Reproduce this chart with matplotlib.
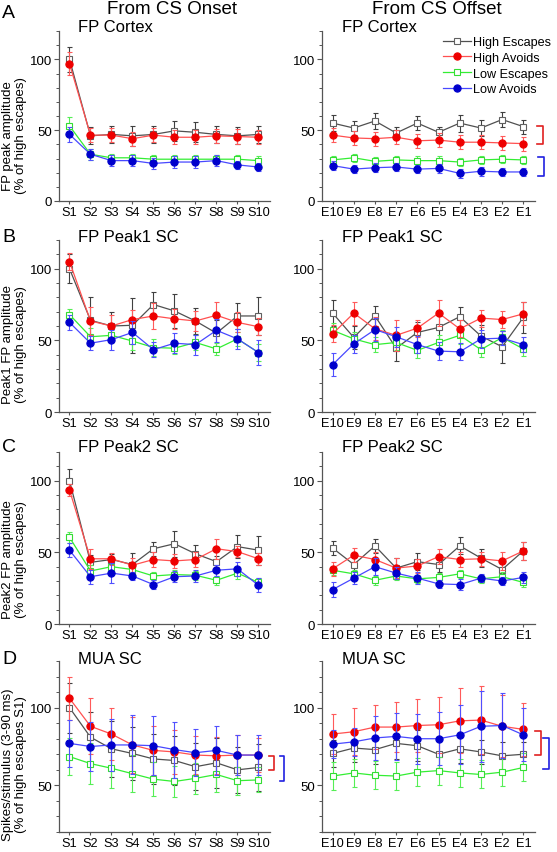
import matplotlib
matplotlib.use('Agg')
import matplotlib.pyplot as plt
from matplotlib.ticker import MultipleLocator
import numpy as np

plt.rcParams['font.family'] = ['Liberation Sans', 'DejaVu Sans']

onset_labels = ['S1', 'S2', 'S3', 'S4', 'S5', 'S6', 'S7', 'S8', 'S9', 'S10']
offset_labels = ['E10', 'E9', 'E8', 'E7', 'E6', 'E5', 'E4', 'E3', 'E2', 'E1']
series_names = ['High Escapes', 'High Avoids', 'Low Escapes', 'Low Avoids']

# A - FP Cortex
a_on_hesc = [100, 46, 47, 46, 47, 49.5, 48.5, 47, 46, 47]
a_on_hesc_err = [9, 6, 6, 7, 6, 7, 7, 6, 6, 6]
a_on_hav = [97, 46.5, 46.5, 44, 46.5, 45, 45, 46, 45.5, 45]
a_on_hav_err = [8, 5, 5, 5, 5, 5, 5, 5, 5, 5]
a_on_lesc = [53, 33, 30.5, 30.5, 29.5, 29.5, 29.5, 29.5, 29.5, 28.5]
a_on_lesc_err = [6, 4, 3, 3, 3, 3, 3, 3, 3, 3]
a_on_lav = [47, 33, 28.5, 28.5, 26.5, 27.5, 27.5, 28.5, 25.5, 24]
a_on_lav_err = [5, 4, 4, 4, 4, 4, 4, 4, 3, 3]

a_off_hesc = [55, 51.5, 56.5, 48, 55, 48.5, 55, 51.5, 57.5, 52.5]
a_off_hesc_err = [5.5, 5, 5.5, 4, 5, 4, 6, 5.5, 5, 5]
a_off_hav = [46.5, 44.5, 44, 45, 42.5, 43, 41.5, 41.5, 41, 40.5]
a_off_hav_err = [5, 5, 5, 5, 5, 5, 5, 5, 5, 5]
a_off_lesc = [29, 30.5, 28, 29, 28.5, 28.5, 27.5, 29, 29.5, 29]
a_off_lesc_err = [3, 3, 3, 3, 3, 3, 3, 3, 3, 3]
a_off_lav = [25, 22.5, 23.5, 24, 22.5, 23, 19.5, 21, 20.5, 20.5]
a_off_lav_err = [3, 3, 3, 3, 3, 3, 3, 3, 3, 3]

# B - FP Peak1 SC
b_on_hesc = [100, 64, 60, 60.5, 75, 70.5, 63.5, 55, 67, 67]
b_on_hesc_err = [10, 16, 10, 19, 9, 12, 9, 9, 9, 13]
b_on_hav = [105, 63.5, 60, 64.5, 67, 65, 63.5, 67.5, 62.5, 59.5]
b_on_hav_err = [6, 10, 8, 7, 9, 7, 7, 9, 7, 6]
b_on_lesc = [68, 52.5, 53.5, 49.5, 45, 44.5, 48.5, 44, 51, 41.5]
b_on_lesc_err = [4, 6, 5, 6, 6, 4, 5, 4, 5, 6]
b_on_lav = [62.5, 48, 50.5, 55.5, 43.5, 48, 47, 57, 51, 41.5]
b_on_lav_err = [5, 5, 7, 8, 5, 7, 7, 8, 7, 9]

b_off_hesc = [69, 52, 67, 44.5, 55.5, 59, 66.5, 53, 45.5, 66]
b_off_hesc_err = [9, 8, 7, 9, 7, 8, 7, 8, 11, 11]
b_off_hav = [54.5, 69, 58, 53.5, 58.5, 69, 58, 65.5, 64.5, 68.5]
b_off_hav_err = [6, 8, 8, 11, 6, 9, 6, 6, 6, 8]
b_off_lesc = [57, 51, 47, 48.5, 43, 48.5, 53.5, 43.5, 52, 44]
b_off_lesc_err = [5, 5, 5, 5, 5, 5, 6, 5, 5, 5]
b_off_lav = [33, 47.5, 57.5, 52.5, 47, 42.5, 42, 51, 51.5, 47]
b_off_lav_err = [8, 6, 8, 7, 6, 6, 6, 6, 5, 5]

# C - FP Peak2 SC
c_on_hesc = [100, 43, 45, 41.5, 52.5, 56, 49, 43.5, 54, 51.5]
c_on_hesc_err = [8, 5, 4, 8, 5, 9, 6, 4, 8, 10]
c_on_hav = [93.5, 45.5, 45.5, 41, 45, 44, 45, 52.5, 50.5, 45.5]
c_on_hav_err = [4, 7, 4, 5, 5, 5, 5, 7, 4, 4]
c_on_lesc = [60.5, 37, 40, 38, 33.5, 34.5, 34, 30.5, 35.5, 29]
c_on_lesc_err = [4, 4, 4, 4, 3, 3, 3, 3, 4, 3]
c_on_lav = [51.5, 33, 35.5, 33.5, 27.5, 33, 33.5, 37.5, 38.5, 27]
c_on_lav_err = [5, 5, 7, 3, 3, 4, 4, 4, 5, 5]

c_off_hesc = [53, 41.5, 54.5, 39, 43.5, 41.5, 54.5, 46, 38, 51]
c_off_hesc_err = [5, 5, 5, 7, 6, 5, 6, 6, 6, 6]
c_off_hav = [38.5, 48, 45, 39, 40.5, 47, 45, 45.5, 44, 51]
c_off_hav_err = [5, 5, 5, 7, 5, 5, 5, 5, 6, 6]
c_off_lesc = [37.5, 35, 30.5, 33.5, 31.5, 32.5, 35, 31.5, 33, 29]
c_off_lesc_err = [3, 3, 3, 3, 3, 3, 3, 3, 3, 3]
c_off_lav = [24, 32, 40, 35.5, 32, 28, 27.5, 32, 30, 32.5]
c_off_lav_err = [5, 4, 6, 4, 4, 3, 4, 3, 3, 4]

# D - MUA SC
d_on_hesc = [100, 81, 73.5, 70.5, 67, 66, 62, 64.5, 60, 61.5]
d_on_hesc_err = [16, 16, 18, 17, 16, 16, 15, 16, 15, 15]
d_on_hav = [106, 88, 83, 76, 72.5, 71.5, 69.5, 69, 69.5, 69.5]
d_on_hav_err = [14, 18, 17, 18, 16, 14, 12, 12, 13, 11]
d_on_lesc = [68.5, 64, 61, 57.5, 54, 52.5, 54.5, 57, 53, 53.5]
d_on_lesc_err = [12, 13, 13, 12, 11, 10, 10, 11, 9, 8]
d_on_lav = [77, 75, 76, 76, 75.5, 73, 71, 72.5, 69.5, 69.5]
d_on_lav_err = [15, 16, 17, 19, 19, 18, 15, 16, 13, 13]

d_off_hesc = [70.5, 74, 73, 77, 75.5, 70, 73.5, 71.5, 69, 70]
d_off_hesc_err = [9, 9, 9, 10, 10, 9, 9, 8, 9, 8]
d_off_hav = [83, 84.5, 87.5, 87.5, 88.5, 89, 91.5, 92, 88, 86]
d_off_hav_err = [13, 15, 14, 16, 17, 18, 21, 22, 20, 17]
d_off_lesc = [56, 58, 56.5, 56, 58.5, 59.5, 58, 57, 58.5, 61.5]
d_off_lesc_err = [9, 9, 9, 9, 9, 9, 9, 9, 9, 9]
d_off_lav = [76.5, 78, 80.5, 81.5, 80, 80, 82.5, 88, 88.5, 82.5]
d_off_lav_err = [9, 9, 14, 15, 16, 17, 19, 23, 21, 17]

# style per series: line color, error color, marker, marker face, marker edge, size
styles = {
    'High Escapes': dict(lc='#505050', ec='#404040', m='s', mfc='white', mec='#606060', ms=4.2, z=2),
    'High Avoids': dict(lc='#ff5050', ec='#ff5a5a', m='o', mfc='#ee0000', mec='#ee0000', ms=5.2, z=4),
    'Low Escapes': dict(lc='#33ee33', ec='#55ee55', m='s', mfc='white', mec='#33dd33', ms=4.2, z=3),
    'Low Avoids': dict(lc='#4848ff', ec='#5050ff', m='o', mfc='#0000cc', mec='#0000cc', ms=5.2, z=5),
}

W, H = 557, 853
fig = plt.figure(figsize=(W / 100, H / 100), dpi=100)


def px_ax(x0, x1, ytop, ybot):
    return fig.add_axes([x0 / W, 1 - ybot / H, (x1 - x0) / W, (ybot - ytop) / H])


def draw_panel(ax, data, labels, ylim, yticks):
    x = np.arange(1, 11)
    lines = {}
    for name in ['High Escapes', 'Low Escapes', 'High Avoids', 'Low Avoids']:
        mean, err = data[name]
        st = styles[name]
        ax.errorbar(x, mean, yerr=err, fmt='none', ecolor=st['ec'], elinewidth=0.8,
                    capsize=1.8, capthick=0.8, zorder=st['z'])
        ln, = ax.plot(x, mean, color=st['lc'], lw=0.9, marker=st['m'], ms=st['ms'],
                      mfc=st['mfc'], mec=st['mec'], mew=0.8, zorder=st['z'] + 0.5, label=name)
        lines[name] = ln
    ax.set_xlim(0.5, 10.55)
    ax.set_ylim(*ylim)
    ax.set_xticks(x)
    ax.set_xticklabels(labels)
    ax.set_yticks(yticks)
    ax.yaxis.set_minor_locator(MultipleLocator(10))
    for s in ['top', 'right']:
        ax.spines[s].set_visible(False)
    for s in ['left', 'bottom']:
        ax.spines[s].set_color('#555555')
        ax.spines[s].set_linewidth(0.9)
    ax.tick_params(axis='y', which='major', direction='out', length=3.5, width=0.8,
                   color='#555555', labelsize=9.5, pad=1.5)
    ax.tick_params(axis='y', which='minor', direction='out', length=2, width=0.7, color='#555555')
    ax.tick_params(axis='x', which='major', direction='out', length=2.5, width=0.8,
                   color='#555555', labelsize=9.2, pad=1.2)
    return lines


rows = [
    ('A', 'FP Cortex', 32, 202, (0, 120), [0, 50, 100], 13, 27,
     'FP peak amplitude', '(% of high escapes)', 136,
     [a_on_hesc, a_on_hav, a_on_lesc, a_on_lav], [a_on_hesc_err, a_on_hav_err, a_on_lesc_err, a_on_lav_err],
     [a_off_hesc, a_off_hav, a_off_lesc, a_off_lav], [a_off_hesc_err, a_off_hav_err, a_off_lesc_err, a_off_lav_err]),
    ('B', 'FP Peak1 SC', 241, 413, (0, 120), [0, 50, 100], 238, 238,
     'Peak1 FP amplitude', '(% of high escapes)', 345,
     [b_on_hesc, b_on_hav, b_on_lesc, b_on_lav], [b_on_hesc_err, b_on_hav_err, b_on_lesc_err, b_on_lav_err],
     [b_off_hesc, b_off_hav, b_off_lesc, b_off_lav], [b_off_hesc_err, b_off_hav_err, b_off_lesc_err, b_off_lav_err]),
    ('C', 'FP Peak2 SC', 453, 625, (0, 120), [0, 50, 100], 448, 448,
     'Peak2 FP amplitude', '(% of high escapes)', 560,
     [c_on_hesc, c_on_hav, c_on_lesc, c_on_lav], [c_on_hesc_err, c_on_hav_err, c_on_lesc_err, c_on_lav_err],
     [c_off_hesc, c_off_hav, c_off_lesc, c_off_lav], [c_off_hesc_err, c_off_hav_err, c_off_lesc_err, c_off_lav_err]),
    ('D', 'MUA SC', 662, 833, (20, 130), [50, 100], 660, 660,
     'Spikes/stimulus (3-90 ms)', '(% of high escapes S1)', 765,
     [d_on_hesc, d_on_hav, d_on_lesc, d_on_lav], [d_on_hesc_err, d_on_hav_err, d_on_lesc_err, d_on_lav_err],
     [d_off_hesc, d_off_hav, d_off_lesc, d_off_lav], [d_off_hesc_err, d_off_hav_err, d_off_lesc_err, d_off_lav_err]),
]

legend_lines = None
for (letter, title, ytop, ybot, ylim, yticks, ly, ty, yl1, yl2, ylc,
     on_m, on_e, off_m, off_e) in rows:
    ax_on = px_ax(59, 270, ytop, ybot)
    ax_off = px_ax(322, 535, ytop, ybot)
    draw_panel(ax_on, {n: (m, e) for n, m, e in zip(series_names, on_m, on_e)}, onset_labels, ylim, yticks)
    lines = draw_panel(ax_off, {n: (m, e) for n, m, e in zip(series_names, off_m, off_e)}, offset_labels, ylim, yticks)
    if legend_lines is None:
        legend_lines = lines
    fig.text(2 / W, 1 - ly / H, letter, fontsize=14, ha='left', va='center')
    fig.text(78 / W, 1 - ty / H, title, fontsize=12, ha='left', va='center')
    fig.text(342 / W, 1 - ty / H, title, fontsize=12, ha='left', va='center')
    fig.text(8 / W, 1 - ylc / H, yl1, fontsize=9.5, rotation=90, ha='center', va='center')
    fig.text(21 / W, 1 - ylc / H, yl2, fontsize=9.5, rotation=90, ha='center', va='center')

fig.text(172 / W, 1 - 10 / H, 'From CS Onset', fontsize=13.5, ha='center', va='center')
fig.text(437 / W, 1 - 10 / H, 'From CS Offset', fontsize=13.5, ha='center', va='center')

fig.legend([legend_lines[n] for n in series_names], series_names, loc='upper left',
           bbox_to_anchor=(443 / W, 1 - 37 / H), frameon=False, fontsize=9.1,
           handlelength=2.2, handletextpad=0.2, labelspacing=0.3, borderpad=0,
           borderaxespad=0, numpoints=1)


def bracket(x0, x1, y0, y1, color):
    # "]" shaped bracket, pixel coordinates
    xs = [x0, x1, x1, x0]
    ys = [y0, y0, y1, y1]
    fig.add_artist(plt.Line2D([x / W for x in xs], [1 - y / H for y in ys],
                              color=color, lw=1.2, transform=fig.transFigure))


bracket(537, 543, 127, 145, '#e02020')
bracket(538, 544, 158, 177, '#2020e0')
bracket(269, 274, 757, 771, '#e02020')
bracket(280, 284, 757, 782, '#2020e0')
bracket(535, 541, 732, 756, '#e02020')
bracket(543, 549, 739, 770, '#2020e0')

fig.savefig('out.png', dpi=100)
